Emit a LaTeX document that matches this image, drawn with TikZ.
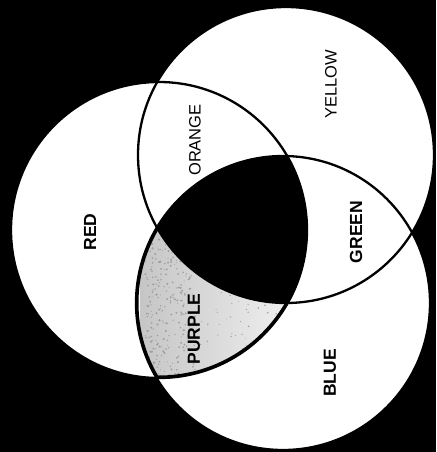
\documentclass[tikz,border=0pt]{standalone}
\usepackage{fontspec}
\setmainfont{Liberation Sans}
\begin{document}
\begin{tikzpicture}[x=1pt,y=-1pt,
  ring/.style={draw=black,line width=2.3pt},
  lbl/.style={rotate=90,inner sep=0pt,font=\fontsize{16.5}{18}\selectfont},
  blbl/.style={rotate=90,inner sep=0pt,font=\fontsize{17.5}{20}\selectfont\bfseries},
  speck/.style={fill=gray!75}]
\fill[black] (0,0) rectangle (436,452);
\useasboundingbox (0,0) rectangle (436,452);
\coordinate (R) at (159,230);
\coordinate (Y) at (286,155);
\coordinate (B) at (283,303);
% white discs
\fill[white] (R) circle[radius=148];
\fill[white] (Y) circle[radius=148];
\fill[white] (B) circle[radius=147];
% purple (red and blue) and black centre
\begin{scope}
  \clip (R) circle[radius=148];
  \clip (B) circle[radius=147];
  \shade[left color=gray!45,right color=gray!10] (140,215) rectangle (300,390);
  \pgfmathsetseed{7}
  \foreach \i in {1,...,260}{
    \pgfmathsetmacro\px{145+50*rnd}
    \pgfmathsetmacro\py{235+140*rnd}
    \fill[speck] (\px,\py) circle[radius=0.5+0.7*rnd];
  }
  \foreach \i in {1,...,40}{
    \pgfmathsetmacro\px{200+80*rnd}
    \pgfmathsetmacro\py{290+60*rnd}
    \fill[speck] (\px,\py) circle[radius=0.4+0.5*rnd];
  }
  \fill[black] (Y) circle[radius=148];
  \draw[line width=5pt] (R) circle[radius=148] (B) circle[radius=147];
\end{scope}
% outlines
\draw[ring] (R) circle[radius=148];
\draw[ring] (Y) circle[radius=148];
\draw[ring] (B) circle[radius=147];
% labels
\node[blbl] (red) at (90,232) {RED};
\node[lbl] (orange) at (195,140) {ORANGE};
\node[lbl] (yellow) at (331,84) {YELLOW};
\node[blbl] (green) at (356,232) {GREEN};
\node[blbl] (purple) at (194,329) {PURPLE};
\node[blbl] (blue) at (330,373) {BLUE};
\end{tikzpicture}
\end{document}
